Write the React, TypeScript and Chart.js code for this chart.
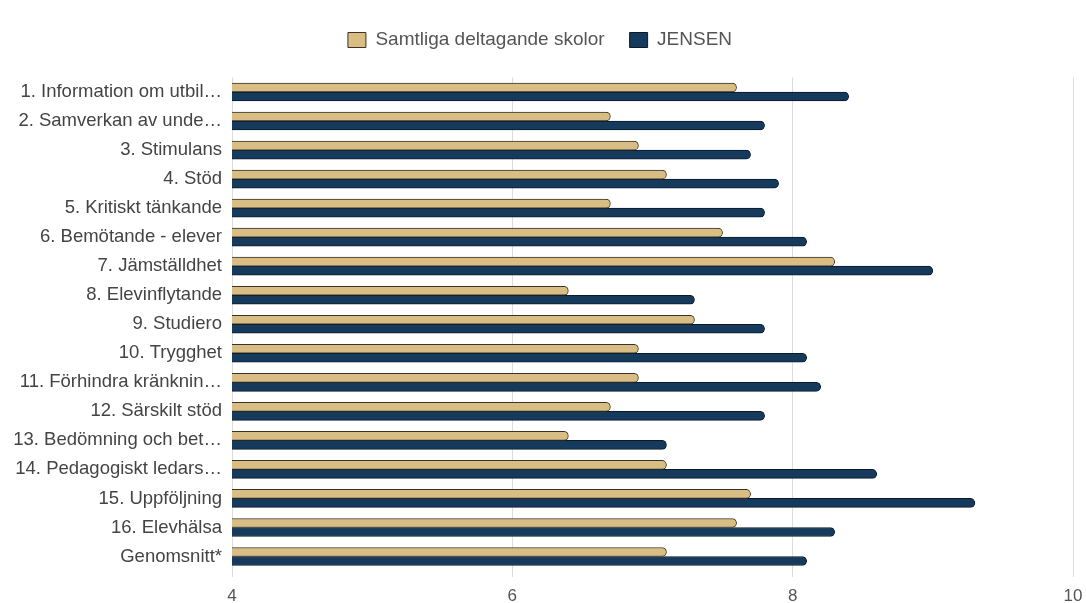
import React, { useEffect, useRef } from "react";
import { Chart, registerables } from "chart.js";

Chart.register(...registerables);

const categories = [
  "1. Information om utbil…",
  "2. Samverkan av unde…",
  "3. Stimulans",
  "4. Stöd",
  "5. Kritiskt tänkande",
  "6. Bemötande - elever",
  "7. Jämställdhet",
  "8. Elevinflytande",
  "9. Studiero",
  "10. Trygghet",
  "11. Förhindra kränknin…",
  "12. Särskilt stöd",
  "13. Bedömning och bet…",
  "14. Pedagogiskt ledars…",
  "15. Uppföljning",
  "16. Elevhälsa",
  "Genomsnitt*",
];

const seriesNames = ["Samtliga deltagande skolor", "JENSEN"];

const samtliga = [7.6, 6.7, 6.9, 7.1, 6.7, 7.5, 8.3, 6.4, 7.3, 6.9, 6.9, 6.7, 6.4, 7.1, 7.7, 7.6, 7.1];
const jensen = [8.4, 7.8, 7.7, 7.9, 7.8, 8.1, 9.0, 7.3, 7.8, 8.1, 8.2, 7.8, 7.1, 8.6, 9.3, 8.3, 8.1];

const xMin = 4;
const xMax = 10;
const xStep = 2;

const FONT = "'Liberation Sans', Arial, Helvetica, sans-serif";

export default function App() {
  const ref = useRef<HTMLCanvasElement | null>(null);

  useEffect(() => {
    if (!ref.current) return;
    const chart = new Chart(ref.current, {
      type: "bar",
      data: {
        labels: categories,
        datasets: [
          {
            label: seriesNames[0],
            data: samtliga,
            backgroundColor: "#d8bd85",
            borderColor: "#3a3324",
            borderWidth: 1,
            borderRadius: 5,
            barThickness: 9,
          },
          {
            label: seriesNames[1],
            data: jensen,
            backgroundColor: "#163a5c",
            borderColor: "#0b1a2a",
            borderWidth: 1,
            borderRadius: 5,
            barThickness: 9,
          },
        ],
      },
      options: {
        indexAxis: "y",
        animation: false,
        responsive: true,
        maintainAspectRatio: false,
        layout: { padding: { top: 5.5, right: 6, bottom: 0, left: 0 } },
        plugins: {
          tooltip: { enabled: false },
          legend: {
            display: true,
            position: "top",
            labels: {
              boxWidth: 18,
              boxHeight: 15,
              padding: 25,
              color: "#555",
              font: { family: FONT, size: 19 },
            },
          },
        },
        scales: {
          x: {
            type: "linear",
            position: "bottom",
            min: xMin,
            max: xMax,
            ticks: {
              stepSize: xStep,
              padding: 9,
              color: "#555",
              font: { family: FONT, size: 17 },
            },
            grid: { color: "#dcdcdc", drawTicks: true, tickLength: 6, lineWidth: 1 },
            border: { display: false },
            afterFit: (s: any) => {
              s.height = 32;
              s.paddingRight = 13;
            },
          },
          x2: {
            type: "linear",
            position: "top",
            min: xMin,
            max: xMax,
            ticks: { display: false },
            grid: { display: false, drawTicks: false },
            border: { display: false },
            afterFit: (s: any) => {
              s.height = 18;
            },
          },
          y: {
            ticks: {
              padding: 10,
              color: "#444",
              font: { family: FONT, size: 18.5 },
              autoSkip: false,
            },
            grid: { display: false, drawTicks: false },
            border: { display: false },
            afterFit: (s: any) => {
              s.width = 232;
            },
          },
        },
      },
    });
    return () => chart.destroy();
  }, []);

  return (
    <div style={{ position: "absolute", left: 0, top: 0, width: 1086, height: 603, background: "#fff" }}>
      <canvas ref={ref} />
    </div>
  );
}
